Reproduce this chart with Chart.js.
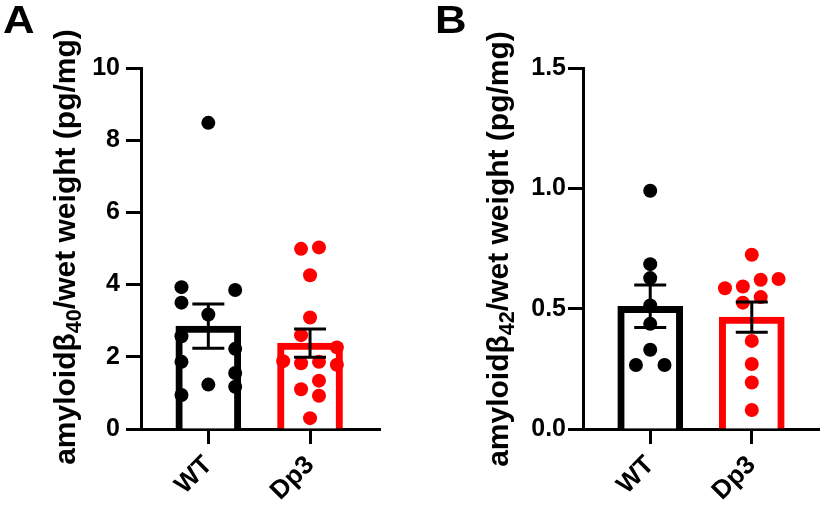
<!DOCTYPE html>
<html>
<head>
<meta charset="utf-8">
<script src="https://cdn.jsdelivr.net/npm/chart.js@4.4.1/dist/chart.umd.min.js"></script>
<style>
  body { margin: 0; background: #fff; }
  #wrap { position: relative; width: 826px; height: 509px; overflow: hidden; font-family: 'Liberation Sans', Arial, sans-serif; font-weight: bold; }
  canvas { position: absolute; top: 0; }
  .panel { position: absolute; top: 0px; font-size: 38px; line-height: 40px; transform: scaleX(1.15); transform-origin: left top; }
  .ytitle { position: absolute; width: 560px; height: 32px; line-height: 32px; font-size: 30px; text-align: center; white-space: nowrap; transform: rotate(-90deg); }
  .ytitle sub { font-size: 0.72em; vertical-align: -0.3em; line-height: 0; }
</style>
</head>
<body>
<div id="wrap">
  <canvas id="chartA" width="420" height="509" style="left:0"></canvas>
  <canvas id="chartB" width="406" height="509" style="left:420px"></canvas>
  <div class="panel" style="left:3px">A</div>
  <div class="panel" style="left:435px">B</div>
  <div class="ytitle" style="left:-215px; top:231px">amyloidβ<sub>40</sub>/wet weight (pg/mg)</div>
  <div class="ytitle" style="left:218px; top:233px">amyloidβ<sub>42</sub>/wet weight (pg/mg)</div>
</div>
<script>
const groups = ['WT', 'Dp3'];
const groupColors = ['#000000', '#ff0000'];

// panel A: amyloid beta 40
const meansA = [2.85, 2.38];
const semA = [0.61, 0.39];
const wtA = [8.48, 3.93, 3.85, 3.50, 3.17, 2.57, 2.22, 1.86, 1.55, 1.23, 1.17, 0.94];
const wtAcol = [0, -3, 3, -3, 0, -3, 3, -3, 3, 0, 3, -3];
const dpA = [4.99, 5.03, 4.26, 3.09, 2.60, 2.26, 1.88, 1.82, 1.86, 1.78, 1.34, 1.10, 0.92, 0.30];
const dpAcol = [-1, 1, 0, 0, -1, 3, -3, -1, 1, 3, 1, -1, 1, 0];
const ticksA = [0, 2, 4, 6, 8, 10];

// panel B: amyloid beta 42
const meansB = [0.51, 0.465];
const semB = [0.088, 0.063];
const wtB = [0.99, 0.685, 0.627, 0.513, 0.437, 0.329, 0.266, 0.266];
const wtBcol = [0, 0, 0, 0, 0, 0, -1.6, 1.6];
const dpB = [0.724, 0.623, 0.620, 0.592, 0.585, 0.548, 0.525, 0.366, 0.270, 0.193, 0.079];
const dpBcol = [0, 3, 1, -1, -3, 1, -1, 0, 0, 0, 0];
const ticksB = [0, 0.5, 1.0, 1.5];

const COL_STEP = 0.088; // jitter step in category units

Chart.defaults.font.family = "'Liberation Sans', Arial, sans-serif";
Chart.defaults.font.weight = 'bold';
Chart.defaults.font.size = 25;
Chart.defaults.color = '#000';

function points(vals, cols, idx) {
    return vals.map((v, i) => ({ x: idx + cols[i] * COL_STEP, y: v }));
}

const errorBars = {
    id: 'errorBars',
    afterDatasetsDraw(chart, args, opts) {
        const ctx = chart.ctx, xs = chart.scales.x, ys = chart.scales.y;
        ctx.save();
        ctx.strokeStyle = '#000';
        ctx.lineWidth = 3;
        opts.means.forEach((m, i) => {
            const x = xs.getPixelForValue(i);
            const yt = ys.getPixelForValue(m + opts.sems[i]);
            const yb = ys.getPixelForValue(m - opts.sems[i]);
            ctx.beginPath();
            ctx.moveTo(x, yt); ctx.lineTo(x, yb);
            ctx.moveTo(x - 16, yt); ctx.lineTo(x + 16, yt);
            ctx.moveTo(x - 16, yb); ctx.lineTo(x + 16, yb);
            ctx.stroke();
        });
        ctx.restore();
    }
};

function makeChart(id, cfg) {
    return new Chart(document.getElementById(id), {
        type: 'bar',
        data: {
            datasets: [
                {
                    type: 'bar',
                    data: cfg.means.map((m, i) => ({ x: i, y: m })),
                    backgroundColor: '#fff',
                    borderColor: groupColors,
                    borderWidth: 7,
                    borderSkipped: 'start',
                    barThickness: 65,
                    order: 3
                },
                {
                    type: 'scatter',
                    data: points(cfg.wt, cfg.wtCol, 0),
                    backgroundColor: groupColors[0],
                    borderWidth: 0,
                    pointRadius: 7,
                    order: 2
                },
                {
                    type: 'scatter',
                    data: points(cfg.dp, cfg.dpCol, 1),
                    backgroundColor: groupColors[1],
                    borderWidth: 0,
                    pointRadius: 7,
                    order: 1
                }
            ]
        },
        options: {
            responsive: false,
            devicePixelRatio: 1,
            animation: false,
            layout: { padding: { top: 68, right: cfg.padRight, bottom: 0, left: 0 } },
            plugins: {
                legend: { display: false },
                tooltip: { enabled: false },
                errorBars: { means: cfg.means, sems: cfg.sems }
            },
            scales: {
                x: {
                    type: 'linear',
                    offset: false,
                    min: cfg.xMin, max: cfg.xMax,
                    z: 1,
                    afterBuildTicks: s => { s.ticks = groups.map((g, i) => ({ value: i })); },
                    afterFit: s => { s.height = 80; },
                    ticks: {
                        autoSkip: false,
                        minRotation: 45, maxRotation: 45,
                        padding: 6,
                        font: { size: 26 },
                        callback: v => groups[v]
                    },
                    grid: { offset: false, drawOnChartArea: false, drawTicks: true, tickLength: 15, tickWidth: 3, tickColor: '#000' },
                    border: { display: true, width: 3, color: '#000' }
                },
                y: {
                    min: 0, max: cfg.yMax,
                    z: 1,
                    afterBuildTicks: s => { s.ticks = cfg.ticks.map(v => ({ value: v })); },
                    afterFit: s => { s.width = cfg.yWidth; },
                    ticks: {
                        padding: cfg.tickPad,
                        callback: cfg.fmt
                    },
                    grid: { drawOnChartArea: false, drawTicks: true, tickLength: 15, tickWidth: 3, tickColor: '#000' },
                    border: { display: true, width: 3, color: '#000' }
                }
            }
        },
        plugins: [errorBars]
    });
}

makeChart('chartA', {
    means: meansA, sems: semA, wt: wtA, wtCol: wtAcol, dp: dpA, dpCol: dpAcol,
    ticks: ticksA, yMax: 10, fmt: v => String(v),
    xMin: -0.662, xMax: 1.688, yWidth: 141, padRight: 40, tickPad: 6
});

makeChart('chartB', {
    means: meansB, sems: semB, wt: wtB, wtCol: wtBcol, dp: dpB, dpCol: dpBcol,
    ticks: ticksB, yMax: 1.5, fmt: v => v.toFixed(1),
    xMin: -0.662, xMax: 1.662, yWidth: 163, padRight: 6, tickPad: 2
});
</script>
</body>
</html>
